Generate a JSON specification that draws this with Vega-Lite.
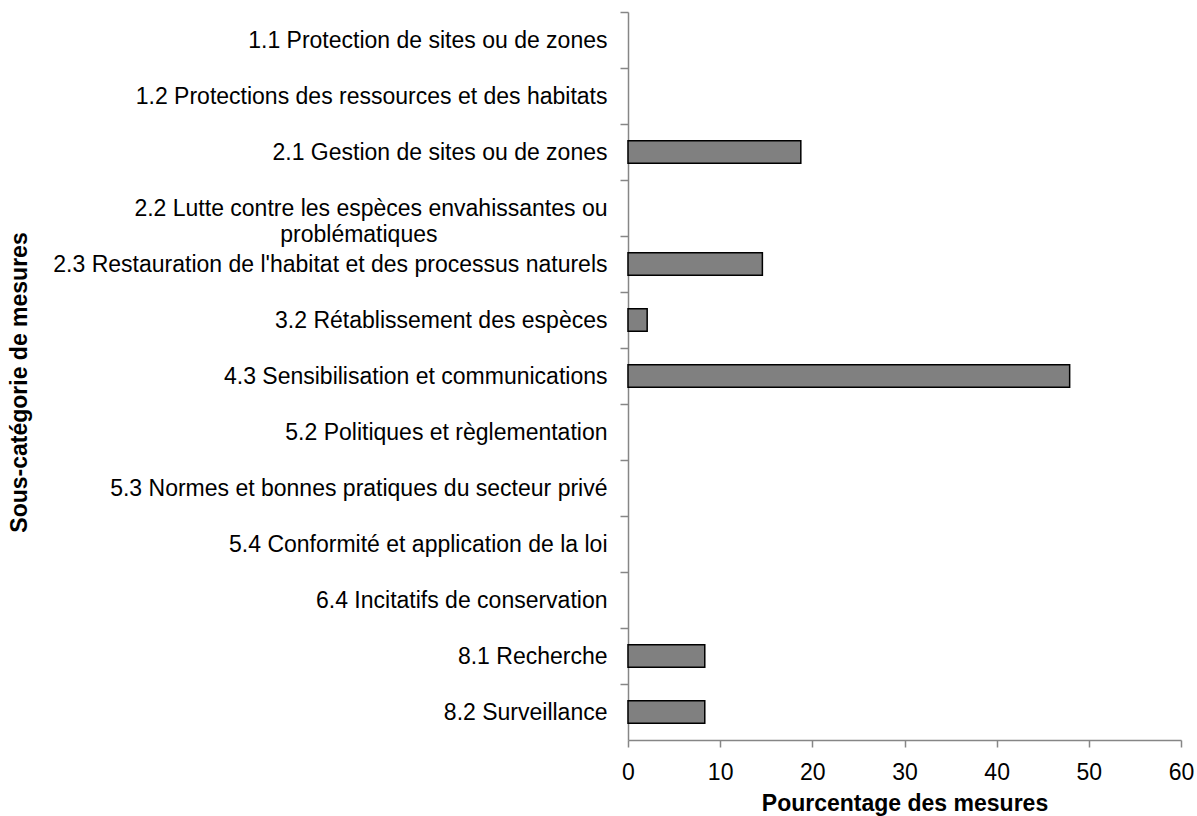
{
  "$schema": "https://vega.github.io/schema/vega-lite/v6.json",
  "width": 553,
  "height": 728,
  "autosize": "none",
  "padding": {"left": 628, "top": 12, "right": 16, "bottom": 76},
  "background": "white",
  "config": {"view": {"stroke": null}, "font": "Liberation Sans"},
  "data": {"values": [
    {"categorie": "1.1 Protection de sites ou de zones", "pourcentage": 0},
    {"categorie": "1.2 Protections des ressources et des habitats", "pourcentage": 0},
    {"categorie": "2.1 Gestion de sites ou de zones", "pourcentage": 18.75},
    {"categorie": "2.2 Lutte contre les espèces envahissantes ou problématiques", "pourcentage": 0},
    {"categorie": "2.3 Restauration de l'habitat et des processus naturels", "pourcentage": 14.58},
    {"categorie": "3.2 Rétablissement des espèces", "pourcentage": 2.08},
    {"categorie": "4.3 Sensibilisation et communications", "pourcentage": 47.92},
    {"categorie": "5.2 Politiques et règlementation", "pourcentage": 0},
    {"categorie": "5.3 Normes et bonnes pratiques du secteur privé", "pourcentage": 0},
    {"categorie": "5.4 Conformité et application de la loi", "pourcentage": 0},
    {"categorie": "6.4 Incitatifs de conservation", "pourcentage": 0},
    {"categorie": "8.1 Recherche", "pourcentage": 8.33},
    {"categorie": "8.2 Surveillance", "pourcentage": 8.33}
  ]},
  "mark": {"type": "bar", "fill": "#808080", "stroke": "#000000", "strokeWidth": 1.5},
  "encoding": {
    "strokeOpacity": {"condition": {"test": "datum.pourcentage > 0", "value": 1}, "value": 0},
    "y": {
      "field": "categorie",
      "type": "nominal",
      "sort": null,
      "scale": {"paddingInner": 0.6, "paddingOuter": 0.3},
      "axis": {
        "title": "Sous-catégorie de mesures",
        "titleFont": "Liberation Sans",
        "titleFontSize": 23,
        "titleFontWeight": "bold",
        "titleColor": "#000000",
        "titleAngle": -90,
        "titleAlign": "center",
        "titleBaseline": "middle",
        "titleX": -609,
        "titleY": 370,
        "labelFont": "Liberation Sans",
        "labelFontSize": 23,
        "labelColor": "#000000",
        "labelPadding": 13,
        "labelLimit": 700,
        "labelLineHeight": 26,
        "labelExpr": "indexof(datum.value, '2.2 ') == 0 ? ['2.2 Lutte contre les espèces envahissantes ou', 'problématiques\u2800\u2800\u2800\u2800\u2800\u2800\u2800\u2800\u2800\u2800'] : datum.value",
        "bandPosition": 0,
        "tickOffset": -16.8,
        "labelOffset": 16.8,
        "tickSize": 8,
        "tickColor": "#868686",
        "domainColor": "#868686",
        "domainWidth": 1.5,
        "tickWidth": 1.5
      }
    },
    "x": {
      "field": "pourcentage",
      "type": "quantitative",
      "scale": {"domain": [0, 60], "nice": false},
      "axis": {
        "title": "Pourcentage des mesures",
        "titleFont": "Liberation Sans",
        "titleFontSize": 23,
        "titleFontWeight": "bold",
        "titleColor": "#000000",
        "titleBaseline": "middle",
        "titleY": 63,
        "values": [0, 10, 20, 30, 40, 50, 60],
        "labelFont": "Liberation Sans",
        "labelFontSize": 23,
        "labelColor": "#000000",
        "labelBaseline": "middle",
        "labelPadding": 25,
        "labelFlush": false,
        "grid": false,
        "tickSize": 7,
        "tickColor": "#868686",
        "domainColor": "#868686",
        "domainWidth": 1.5,
        "tickWidth": 1.5
      }
    }
  }
}
